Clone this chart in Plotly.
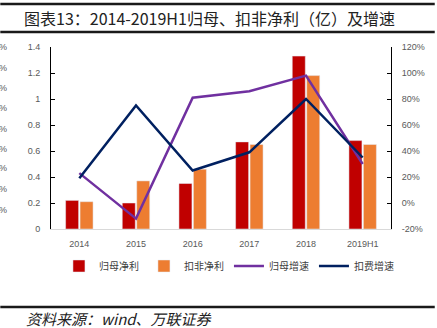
import plotly.graph_objects as go

categories = ["2014", "2015", "2016", "2017", "2018", "2019H1"]
gm_profit = [0.22, 0.20, 0.35, 0.67, 1.33, 0.68]      # 归母净利 (亿)
kf_profit = [0.21, 0.37, 0.46, 0.65, 1.18, 0.65]      # 扣非净利 (亿)
gm_growth = [23, -12, 81, 86, 98, 30]                 # 归母增速 (%)
kf_growth = [19, 75, 25, 39, 80, 35]                  # 扣费增速 (%)
left_ticks = [0, 0.2, 0.4, 0.6, 0.8, 1.0, 1.2, 1.4]
right_ticks = [-20, 0, 20, 40, 60, 80, 100, 120]
right_labels = [f"{v}%" for v in right_ticks]

W, H = 437, 328
L, R, T, B = 51, 393, 47, 229

def px(x):
    return (x - L) / (R - L)

def py(y):
    return (B - y) / (B - T)

tick_font = dict(family="Liberation Sans, Arial, sans-serif", size=9, color="#595959")
cjk = "Noto Sans CJK SC, sans-serif"

fig = go.Figure()
fig.add_trace(go.Bar(x=categories, y=gm_profit, name="归母净利", marker_color="#C00000", yaxis="y"))
fig.add_trace(go.Bar(x=categories, y=kf_profit, name="扣非净利", marker_color="#ED7D31", yaxis="y"))
fig.add_trace(go.Scatter(x=categories, y=gm_growth, name="归母增速", mode="lines",
                         line=dict(color="#7030A0", width=2.5), yaxis="y2"))
fig.add_trace(go.Scatter(x=categories, y=kf_growth, name="扣费增速", mode="lines",
                         line=dict(color="#002060", width=2.5), yaxis="y2"))

shapes = []
for y0, w in [(4, 2.5), (32, 2.5), (307, 2.5)]:
    shapes.append(dict(type="line", xref="paper", yref="paper", x0=px(0), x1=px(W),
                       y0=py(y0), y1=py(y0), line=dict(color="#1a1a1a", width=w)))

annotations = [
    dict(text="图表13：2014-2019H1归母、扣非净利（亿）及增速", xref="paper", yref="paper",
         x=px(22), y=py(18), xanchor="left", yanchor="middle", showarrow=False,
         font=dict(family=cjk, size=16, color="#222222")),
    dict(text="<i>资料来源：wind、万联证券</i>", xref="paper", yref="paper",
         x=px(24), y=py(318), xanchor="left", yanchor="middle", showarrow=False,
         font=dict(family=cjk, size=15, color="#222222")),
]
for yy in [47, 68, 88, 108, 129, 149, 168, 189, 210]:
    annotations.append(dict(text="%", xref="paper", yref="paper", x=px(9), y=py(yy),
                            xanchor="right", yanchor="middle", showarrow=False,
                            font=dict(family="Liberation Sans, Arial", size=9, color="#595959")))

fig.update_layout(
    width=W, height=H, autosize=False,
    margin=dict(l=L, r=W - R, t=T, b=H - B, pad=0),
    paper_bgcolor="white", plot_bgcolor="white",
    barmode="group", bargap=0.49, bargroupgap=0.1,
    showlegend=True,
    legend=dict(orientation="h", x=px(230), xanchor="center", y=py(266), yanchor="middle",
                font=dict(family=cjk, size=10, color="#404040"), itemwidth=30,
                tracegroupgap=0),
    xaxis=dict(showline=True, linecolor="#d9d9d9", linewidth=1, ticks="",
               tickfont=tick_font, showgrid=False, zeroline=False, ticklabelstandoff=6),
    yaxis=dict(range=[0, 1.4], tickvals=left_ticks, showline=True, linecolor="#000000",
               linewidth=1, ticks="inside", ticklen=4, tickcolor="#000000",
               showgrid=False, zeroline=False, tickfont=tick_font, ticklabelstandoff=8),
    yaxis2=dict(range=[-20, 120], tickvals=right_ticks, ticktext=right_labels, overlaying="y",
                side="right", showline=True, linecolor="#000000", linewidth=1,
                ticks="inside", ticklen=4, tickcolor="#000000", showgrid=False,
                zeroline=False, tickfont=tick_font, ticklabelstandoff=8),
    shapes=shapes, annotations=annotations,
)

fig.write_html("out.html")
